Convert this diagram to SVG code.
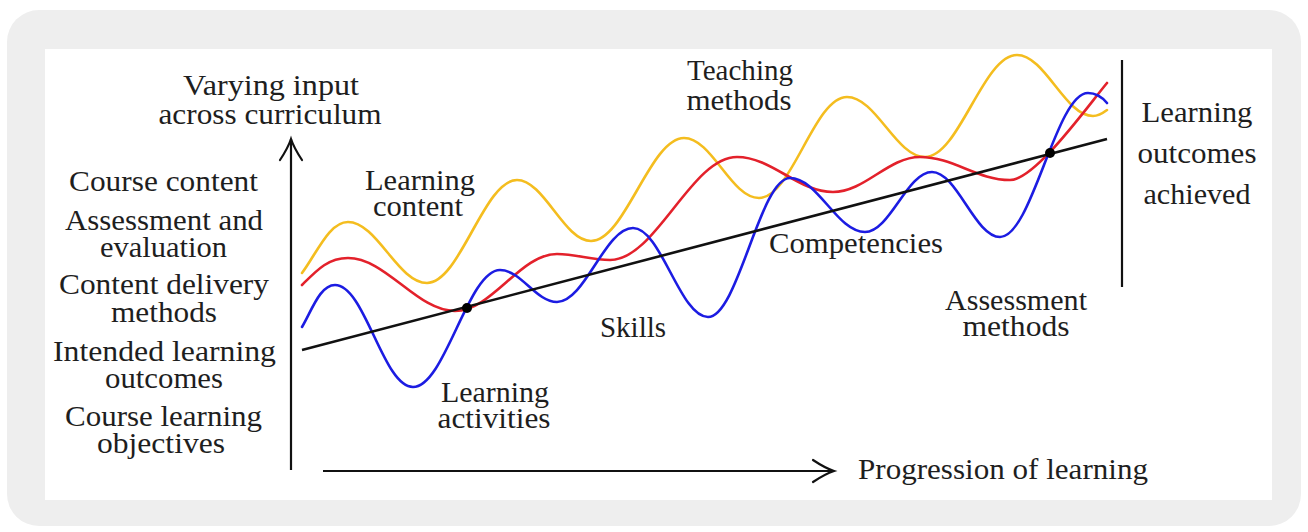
<svg xmlns="http://www.w3.org/2000/svg" width="1308" height="532" viewBox="0 0 1308 532">
  <defs>
    <style>
      .lbl { font-family: "Liberation Serif", "Times New Roman", serif; font-size: 29px; fill: #1e1e1e; text-anchor: middle; }
      .axis { fill: none; stroke: #111; stroke-width: 2.2; }
      .curve { fill: none; stroke-width: 2.6; stroke-linecap: round; stroke-linejoin: round; }
      .gold { stroke: #f4bd1f; }
      .red { stroke: #e3212b; }
      .blue { stroke: #1c1ce2; }
      .trend { fill: none; stroke: #111; stroke-width: 2.6; }
      .dot { fill: #000; }
    </style>
    <marker id="tip" markerUnits="userSpaceOnUse" viewBox="-23 -13 25 26" refX="0" refY="0" markerWidth="25" markerHeight="26" orient="auto" overflow="visible">
      <path d="M-21,-11 Q-9,-3 0,0 Q-9,3 -21,11" fill="none" stroke="#111" stroke-width="2.2" stroke-linecap="round"/>
    </marker>
  </defs>

  <!-- frame -->
  <rect x="0" y="0" width="1308" height="532" fill="#ffffff"/>
  <rect x="7" y="10" width="1294" height="516" rx="32" fill="#eeeeee"/>
  <rect x="45" y="49" width="1227" height="451" fill="#ffffff"/>

  <!-- axes and curves -->
  <g id="connectors">
    <path class="axis" d="M291,470 L291,139" marker-end="url(#tip)"/>
    <path class="axis" d="M323,471 L834,471" marker-end="url(#tip)"/>
    <path class="axis" d="M1122,60 L1122,287"/>

    <path class="curve gold" d="M302,273 C317,253 329,222 348,222 C377,222 398,283 427,283 C460,283 484,180 517,180 C544,180 564,241 591,241 C625,241 650,138 684,138 C712,138 731,198 759,198 C792,198 814,97 847,97 C876,97 896,157 925,157 C959,157 983,55 1017,55 C1045,55 1065,116 1093,116 C1099,116 1103,113 1107,110"/>
    <path class="curve red" d="M302,285 C317,270 328,258 348,258 C386,258 417,311 455,311 C492,311 520,254 557,254 C576,254 591,260 610,260 C656,260 691,157 737,157 C772,157 798,192 833,192 C865,192 888,157 920,157 C953,157 977,180 1010,180 C1035,180 1087,107 1107,83"/>
    <path class="curve blue" d="M302,327 C312,310 320,285 335,285 C365,285 383,387 413,387 C445,387 468,270 500,270 C521,270 536,302 557,302 C585,302 605,228 633,228 C661,228 680,317 708,317 C738,317 760,178 790,178 C818,178 837,232 865,232 C890,232 907,172 932,172 C957,172 975,237 1000,237 C1032,237 1056,93 1088,93 C1095,93 1102,97 1107,103"/>
    <path class="trend" d="M302,350 L1107,139"/>
    <circle class="dot" cx="467" cy="308" r="5"/>
    <circle class="dot" cx="1050" cy="153" r="5"/>
  </g>

  <g id="y-axis-title">
    <text class="lbl" x="271" y="95" textLength="176" lengthAdjust="spacingAndGlyphs">Varying input</text>
    <text class="lbl" x="270" y="124" textLength="223" lengthAdjust="spacingAndGlyphs">across curriculum</text>
  </g>

  <g id="course-content">
    <text class="lbl" x="163.5" y="191" textLength="189" lengthAdjust="spacingAndGlyphs">Course content</text>
  </g>
  <g id="assessment-evaluation">
    <text class="lbl" x="164" y="230" textLength="198" lengthAdjust="spacingAndGlyphs">Assessment and</text>
    <text class="lbl" x="163.5" y="257" textLength="127" lengthAdjust="spacingAndGlyphs">evaluation</text>
  </g>
  <g id="content-delivery">
    <text class="lbl" x="164" y="294" textLength="210" lengthAdjust="spacingAndGlyphs">Content delivery</text>
    <text class="lbl" x="164" y="322" textLength="106" lengthAdjust="spacingAndGlyphs">methods</text>
  </g>
  <g id="intended-outcomes">
    <text class="lbl" x="164.5" y="361" textLength="223" lengthAdjust="spacingAndGlyphs">Intended learning</text>
    <text class="lbl" x="164" y="388" textLength="118" lengthAdjust="spacingAndGlyphs">outcomes</text>
  </g>
  <g id="course-objectives">
    <text class="lbl" x="163.5" y="426" textLength="197" lengthAdjust="spacingAndGlyphs">Course learning</text>
    <text class="lbl" x="161" y="453" textLength="128" lengthAdjust="spacingAndGlyphs">objectives</text>
  </g>

  <g id="learning-content">
    <text class="lbl" x="420" y="190" textLength="110" lengthAdjust="spacingAndGlyphs">Learning</text>
    <text class="lbl" x="418" y="216" textLength="90" lengthAdjust="spacingAndGlyphs">content</text>
  </g>
  <g id="teaching-methods">
    <text class="lbl" x="740" y="80" textLength="106" lengthAdjust="spacingAndGlyphs">Teaching</text>
    <text class="lbl" x="739" y="110" textLength="105" lengthAdjust="spacingAndGlyphs">methods</text>
  </g>
  <g id="competencies">
    <text class="lbl" x="856" y="253" textLength="174" lengthAdjust="spacingAndGlyphs">Competencies</text>
  </g>
  <g id="skills">
    <text class="lbl" x="633" y="337" textLength="66" lengthAdjust="spacingAndGlyphs">Skills</text>
  </g>
  <g id="assessment-methods">
    <text class="lbl" x="1016" y="310" textLength="142" lengthAdjust="spacingAndGlyphs">Assessment</text>
    <text class="lbl" x="1016" y="336" textLength="107" lengthAdjust="spacingAndGlyphs">methods</text>
  </g>
  <g id="learning-activities">
    <text class="lbl" x="495" y="402" textLength="108" lengthAdjust="spacingAndGlyphs">Learning</text>
    <text class="lbl" x="494" y="428" textLength="113" lengthAdjust="spacingAndGlyphs">activities</text>
  </g>
  <g id="outcomes-achieved">
    <text class="lbl" x="1197" y="122" textLength="111" lengthAdjust="spacingAndGlyphs">Learning</text>
    <text class="lbl" x="1197" y="163" textLength="119" lengthAdjust="spacingAndGlyphs">outcomes</text>
    <text class="lbl" x="1197" y="204" textLength="107" lengthAdjust="spacingAndGlyphs">achieved</text>
  </g>
  <g id="x-axis-title">
    <text class="lbl" x="1003" y="479" textLength="290" lengthAdjust="spacingAndGlyphs">Progression of learning</text>
  </g>
</svg>
